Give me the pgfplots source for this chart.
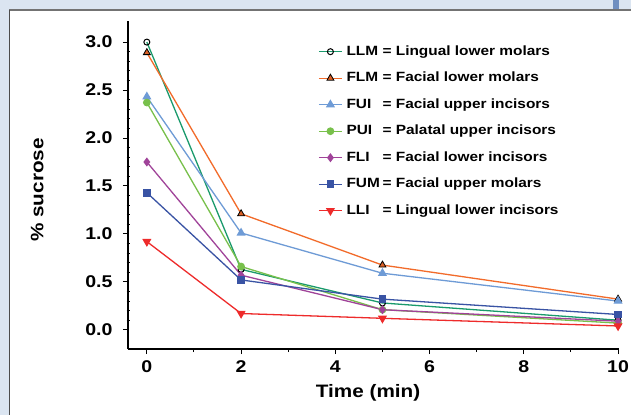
\documentclass[border=0pt]{standalone}
\usepackage{fontspec}
\setmainfont{Liberation Sans}[FakeStretch=1.15]
\usepackage{pgfplots}
\pgfplotsset{compat=1.18}

\definecolor{bgblue}{HTML}{DBE5F1}
\definecolor{barblue}{HTML}{6F8FC0}
\definecolor{cLLM}{HTML}{1A9A6C}
\definecolor{cFLM}{HTML}{F26B2A}
\definecolor{cFUI}{HTML}{6E9BD6}
\definecolor{cPUI}{HTML}{78C04B}
\definecolor{cFLI}{HTML}{A04399}
\definecolor{cFUM}{HTML}{3953A4}
\definecolor{cLLI}{HTML}{EE2B2B}

\newcommand{\ab}[1]{\makebox[36pt][l]{#1}}

\begin{document}
\begin{tikzpicture}[x=1pt,y=1pt]
% panel background
\fill[bgblue] (0,0) rectangle (631,-415);
\fill[white] (10,-10) rectangle (631,-415);
\draw[line width=1.5pt, black!55] (9,-10) -- (631,-10);
\draw[line width=0.8pt, black!70] (9.5,-10) -- (9.5,-415);
\fill[barblue] (613,0) rectangle (619,-9);

\begin{axis}[
  at={(128pt,-349pt)}, anchor=south west,
  scale only axis, width=491pt, height=328pt,
  xmin=-0.40, xmax=10.02, ymin=-0.20, ymax=3.22,
  axis x line*=bottom, axis y line*=left,
  axis line style={line width=1.3pt, -},
  xtick={0,2,...,10}, minor x tick num=1,
  ytick={0,0.5,...,3}, minor y tick num=4,
  tick align=outside,
  major tick length=5pt, minor tick length=3pt,
  tick style={line width=1pt, black},
  minor y tick style={xshift=1.5pt},
  /pgf/number format/assume math mode=true,
  yticklabel style={/pgf/number format/fixed, /pgf/number format/zerofill, /pgf/number format/precision=1},
  tick label style={font=\bfseries\fontsize{17}{17}\selectfont},
  xticklabel style={yshift=-3pt},
  yticklabel style={xshift=-7pt},
  xlabel={Time (min)},
  ylabel={\% sucrose},
  label style={font=\bfseries\fontsize{18}{18}\selectfont},
  xlabel style={at={(axis description cs:0.489,-0.134)}, anchor=center},
  ylabel style={at={(axis description cs:-0.185,0.485)}, anchor=center, rotate=0},
  legend style={draw=none, fill=none, at={(axis description cs:0.381,0.936)}, anchor=north west,
    font=\bfseries\fontsize{13.4}{13.4}\selectfont, row sep=11.5pt,
    nodes={inner ysep=1pt, inner xsep=4pt, text height=10pt, text depth=3pt}},
  legend cell align=left,
  legend image code/.code={\draw[line width=1.3pt, mark repeat=2, mark phase=2, #1] plot coordinates {(0pt,0pt) (11.5pt,0pt) (23pt,0pt)};},
  every axis plot/.append style={line width=1.3pt},
  clip=false,
]
\addplot[cLLM, mark=o, mark size=3pt, mark options={draw=black, fill=white, line width=1pt}]
  coordinates {(0,3.00) (2,0.63) (5,0.28) (10,0.10)};
\addlegendentry{\ab{LLM}= Lingual lower molars}
\addplot[cFLM, mark=triangle*, mark size=4pt, mark options={draw=black, fill=cFLM!90!black, line width=0.8pt}]
  coordinates {(0,2.89) (2,1.21) (5,0.675) (10,0.32)};
\addlegendentry{\ab{FLM}= Facial lower molars}
\addplot[cFUI, mark=triangle*, mark size=4pt, mark options={fill=cFUI}]
  coordinates {(0,2.43) (2,1.01) (5,0.59) (10,0.30)};
\addlegendentry{\ab{FUI}= Facial upper incisors}
\addplot[cPUI, mark=*, mark size=3.2pt]
  coordinates {(0,2.37) (2,0.66) (5,0.21) (10,0.07)};
\addlegendentry{\ab{PUI}= Palatal upper incisors}
\addplot[cFLI, mark=diamond*, mark size=3.5pt]
  coordinates {(0,1.75) (2,0.57) (5,0.21) (10,0.09)};
\addlegendentry{\ab{FLI}= Facial lower incisors}
\addplot[cFUM, mark=square*, mark size=3.2pt]
  coordinates {(0,1.43) (2,0.52) (5,0.32) (10,0.16)};
\addlegendentry{\ab{FUM}= Facial upper molars}
\addplot[cLLI, mark=triangle*, mark size=4pt, mark options={rotate=180}]
  coordinates {(0,0.92) (2,0.17) (5,0.12) (10,0.04)};
\addlegendentry{\ab{LLI}= Lingual lower incisors}
\end{axis}
\pgfresetboundingbox
\path[use as bounding box] (0,0) rectangle (631,-415);
\end{tikzpicture}
\end{document}
